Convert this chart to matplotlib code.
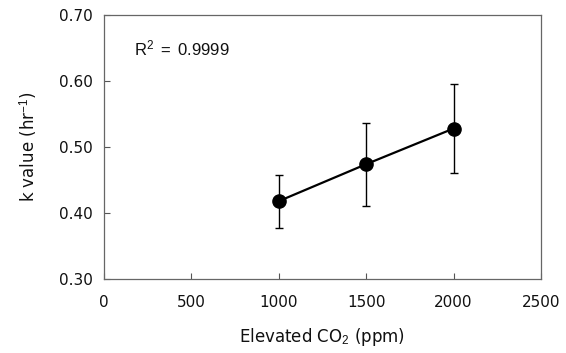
import matplotlib
matplotlib.use("Agg")
import matplotlib.pyplot as plt

co2 = [1000, 1500, 2000]
k_values = [0.418, 0.474, 0.528]
k_err = [0.040, 0.063, 0.067]
x_ticks = [0, 500, 1000, 1500, 2000, 2500]
y_ticks = [0.30, 0.40, 0.50, 0.60, 0.70]

plt.rcParams['font.family'] = ['DejaVu Sans']
plt.rcParams['mathtext.fontset'] = 'custom'
plt.rcParams['mathtext.rm'] = 'Liberation Sans'
plt.rcParams['mathtext.it'] = 'Liberation Sans'
plt.rcParams['mathtext.bf'] = 'Liberation Sans'

fig = plt.figure(figsize=(5.66, 3.53), dpi=100)
ax = fig.add_axes([0.183, 0.209, 0.773, 0.749])

ax.errorbar(co2, k_values, yerr=k_err, fmt='-o', color='black', lw=1.6,
            markersize=9.5, elinewidth=1.0, capsize=3, capthick=1.0)

ax.set_xlim(0, 2500)
ax.set_ylim(0.30, 0.70)
ax.set_xticks(x_ticks)
ax.set_xticklabels([str(v) for v in x_ticks])
ax.set_yticks(y_ticks)
ax.set_yticklabels([f"{v:.2f}" for v in y_ticks])
ax.tick_params(direction='in', length=4, width=0.8, color='#555555',
               labelsize=11, labelcolor='#111111', top=False, right=False)
ax.tick_params(axis='y', pad=8)
ax.tick_params(axis='x', pad=11)
for s in ax.spines.values():
    s.set_color('#666666')
    s.set_linewidth(0.9)

ax.set_xlabel('Elevated CO$_2$ (ppm)', fontsize=12, labelpad=12, color='#111111')
ax.set_ylabel('k value (hr$^{-1}$)', fontsize=12, labelpad=14, color='#111111')
ax.text(0.069, 0.87, r'$\mathrm{R^2\ =\ 0.9999}$', transform=ax.transAxes, fontsize=12,
        va='center', ha='left', color='#111111')

fig.savefig('out.png', dpi=100)
